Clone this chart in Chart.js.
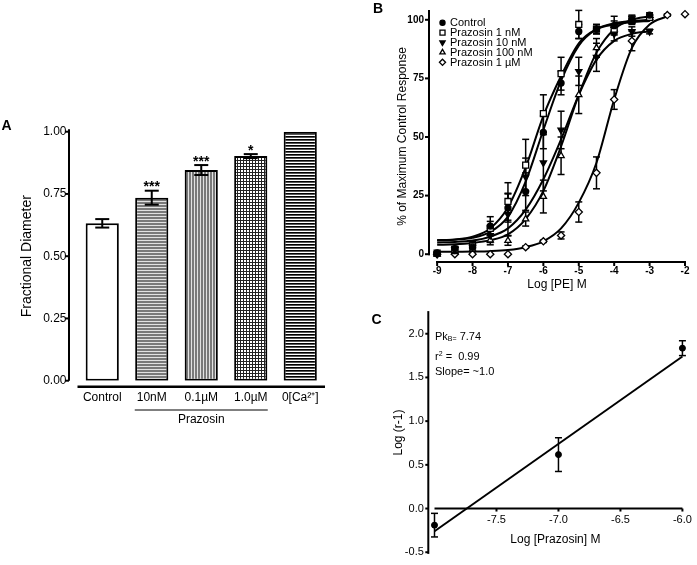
<!DOCTYPE html>
<html>
<head>
<meta charset="utf-8">
<script src="https://cdn.jsdelivr.net/npm/chart.js@4.4.0/dist/chart.umd.min.js"></script>
<style>
  body { margin: 0; background: #fff; }
  #fig { position: relative; width: 697px; height: 565px; overflow: hidden; font-family: "Liberation Sans", Arial, sans-serif; color: #000; }
  canvas { position: absolute; }
  .lbl { position: absolute; font-weight: bold; font-size: 14px; line-height: 14px; }
  .note { position: absolute; left: 435px; font-size: 11px; line-height: 15px; white-space: nowrap; }
  .note sub { font-size: 7px; vertical-align: -1px; }
  .note sup { font-size: 7px; vertical-align: 4px; }
</style>
</head>
<body>
<div id="fig">
  <canvas id="chart-a" width="345" height="335" style="left:0;top:100px"></canvas>
  <canvas id="chart-b" width="347" height="300" style="left:350px;top:0"></canvas>
  <canvas id="chart-c" width="347" height="265" style="left:350px;top:300px"></canvas>
  <div class="lbl" style="left:1.5px;top:118px">A</div>
  <div class="lbl" style="left:373px;top:1px">B</div>
  <div class="lbl" style="left:371.5px;top:312px">C</div>
  <div class="note" style="top:329px">Pk<sub>B=</sub> 7.74<br>r<sup>2</sup> =&nbsp; 0.99<br>Slope= ~1.0</div>
</div>
<script>
// panel A - fractional diameter
const barLabels = ['Control', '10nM', '0.1µM', '1.0µM', '0[Ca²⁺]'];
const barMeans = [0.632, 0.735, 0.846, 0.902, 1.0];
const barErrors = [0.017, 0.028, 0.02, 0.008, 0];
const barMarks = ['', '***', '***', '*', ''];
const aTicks = [0, 0.25, 0.5, 0.75, 1.0];

// panel B - PE concentration response
const peLog = [-9, -8.5, -8, -7.5, -7, -6.5, -6, -5.5, -5, -4.5, -4, -3.5, -3];
const peLogLong = [-9, -8.5, -8, -7.5, -7, -6.5, -6, -5.5, -5, -4.5, -4, -3.5, -3, -2.5, -2];
const legendNames = ['Control', 'Prazosin 1 nM', 'Prazosin 10 nM', 'Prazosin 100 nM', 'Prazosin 1 µM'];
const ctrlMean = [0.5, 2.4, 3, 12, 19.7, 26.7, 52, 73, 95, 96, 97.5, 100, 102];
const ctrlSem = [0.5, 1, 1.5, 4, 6, 8, 7, 5, 3, 2, 2, 1.5, 1];
const nM1Mean = [0.5, 2, 3.5, 11, 22.5, 38, 60, 77, 98, 96, 96, 100, 101];
const nM1Sem = [0.5, 1, 2, 3, 8, 11, 8, 7, 6, 2, 2, 1.5, 1];
const nM10Mean = [0, 2, 3, 8, 17, 33, 39, 53, 78, 84, 94, 95, 95];
const nM10Sem = [0.5, 1, 1.5, 3, 9, 8, 12, 8, 6, 6, 3, 2, 1];
const nM100Mean = [0, 1, 2, 6, 5.8, 15, 24.6, 42, 68, 88, 97.5, 100, 101];
const nM100Sem = [0.5, 1, 1, 2, 2, 3, 7, 8, 8, 4, 4, 2, 1];
const uM1Mean = [0, 0, 0, 0, 0, 3, 5.5, 8, 18, 34.7, 66, 91, 101, 102, 102.4];
const uM1Sem = [0, 0, 0, 0, 0, 0.5, 0.5, 1.5, 4.3, 6.8, 4.2, 4.2, 1, 0.5, 0];
// fitted curves
const ctrlFit = [6, 6.2, 7, 9.5, 16, 31, 53, 74, 89, 96, 98.5, 99.5, 100];
const nM1Fit = [6, 6.3, 7.5, 11, 20, 37, 59, 76, 90, 96, 98, 99, 99.5];
const nM10Fit = [5, 5.2, 5.8, 7.5, 11, 19, 32, 49, 68, 83, 91, 94, 95];
const nM100Fit = [4, 4.2, 4.8, 6, 8.5, 15, 27, 46, 68, 86, 96, 100, 101.5];
const uM1Fit = [1, 1, 1.1, 1.3, 1.8, 3, 5.5, 11, 22, 39, 66, 88, 98, 101.5];
const bTicksX = [-9, -8, -7, -6, -5, -4, -3, -2];
const bTicksY = [0, 25, 50, 75, 100];

// panel C - Schild plot
const schildLog = [-8, -7, -6];
const schildMean = [-0.19, 0.617, 1.835];
const schildErr = [0.135, 0.193, 0.085];
const schildFitX = [-8, -6];
const schildFitY = [-0.26, 1.74];
const cTicksX = [-7.5, -7, -6.5, -6];
const cTicksY = [-0.5, 0, 0.5, 1, 1.5, 2];

Chart.defaults.font.family = "'Liberation Sans', Arial, sans-serif";
Chart.defaults.color = '#000';

function makePattern(w, h, draw) {
  const c = document.createElement('canvas');
  c.width = w; c.height = h;
  const g = c.getContext('2d');
  draw(g, w, h);
  return g.createPattern(c, 'repeat');
}
const hGray = makePattern(4, 3, (g) => { g.fillStyle = '#7a7a7a'; g.fillRect(0, 0, 4, 3); g.fillStyle = '#e2e2e2'; g.fillRect(0, 2, 4, 1); });
const vGray = makePattern(3, 4, (g) => { g.fillStyle = '#7a7a7a'; g.fillRect(0, 0, 3, 4); g.fillStyle = '#e2e2e2'; g.fillRect(2, 0, 1, 4); });
const crossHatch = makePattern(3, 3, (g) => { g.fillStyle = '#fff'; g.fillRect(0, 0, 3, 3); g.fillStyle = '#222'; g.fillRect(0, 0, 3, 1); g.fillRect(0, 0, 1, 3); });
const hBlack = makePattern(3, 3, (g) => { g.fillStyle = '#fff'; g.fillRect(0, 0, 3, 3); g.fillStyle = '#000'; g.fillRect(0, 0, 3, 1); g.fillStyle = '#555'; g.fillRect(0, 1, 3, 1); });

function pts(xs, ys) {
  return ys.map((y, i) => ({x: xs[i], y: y}));
}

function line(ctx, x1, y1, x2, y2) {
  ctx.beginPath();
  ctx.moveTo(x1, y1);
  ctx.lineTo(x2, y2);
  ctx.stroke();
}

function errorBars(chart, cap, width) {
  const {ctx, scales: {x, y}} = chart;
  ctx.save();
  ctx.strokeStyle = '#000';
  ctx.lineWidth = width;
  chart.data.datasets.forEach(ds => {
    if (!ds.errors) return;
    ds.data.forEach((p, i) => {
      const e = ds.errors[i];
      if (!e) return;
      const px = x.getPixelForValue(p.x);
      const t = y.getPixelForValue(p.y + e);
      const b = y.getPixelForValue(p.y - e);
      line(ctx, px, t, px, b);
      line(ctx, px - cap, t, px + cap, t);
      line(ctx, px - cap, b, px + cap, b);
    });
  });
  ctx.restore();
}

const noAxisGrid = {display: false, drawTicks: false};

// ---------- A ----------
new Chart(document.getElementById('chart-a'), {
  type: 'bar',
  data: {
    labels: barLabels,
    datasets: [{
      data: barMeans,
      backgroundColor: ['#fff', hGray, vGray, crossHatch, hBlack],
      borderColor: '#000',
      borderWidth: 2,
      borderSkipped: false,
      barPercentage: 0.67,
      categoryPercentage: 1
    }]
  },
  options: {
    responsive: false,
    animation: false,
    events: [],
    layout: {padding: {left: 0, right: 20, top: 31.7, bottom: 0}},
    scales: {
      x: {
        grid: noAxisGrid,
        border: {display: false},
        ticks: {font: {size: 12}, padding: 10},
        title: {display: true, text: 'Prazosin', font: {size: 12}, padding: {top: 0, bottom: 7.8}},
        afterFit: (s) => { s.height = 54.3; }
      },
      y: {
        min: 0,
        max: 1,
        afterBuildTicks: (s) => { s.ticks = aTicks.map(v => ({value: v})); },
        grid: noAxisGrid,
        border: {display: false},
        ticks: {font: {size: 12}, padding: 11, callback: (v) => v.toFixed(2)},
        title: {display: true, text: 'Fractional Diameter', font: {size: 14}, padding: {top: 18.3, bottom: 0}},
        afterFit: (s) => { s.width = 77.5; }
      }
    },
    plugins: {legend: {display: false}, tooltip: {enabled: false}}
  },
  plugins: [{
    id: 'prismA',
    afterDraw(chart) {
      const {ctx, chartArea, scales: {x, y}} = chart;
      ctx.save();
      ctx.strokeStyle = '#000';
      ctx.lineWidth = 2;
      const ax = chartArea.left - 8.5;
      line(ctx, ax, y.getPixelForValue(1.01), ax, y.getPixelForValue(0));
      aTicks.forEach(v => line(ctx, ax - 4, y.getPixelForValue(v), ax, y.getPixelForValue(v)));
      ctx.lineWidth = 2.5;
      line(ctx, chartArea.left, chartArea.bottom + 6, chartArea.right, chartArea.bottom + 6);
      ctx.lineWidth = 1;
      line(ctx, x.getPixelForValue(1) - 17, chartArea.bottom + 29.3, x.getPixelForValue(3) + 17, chartArea.bottom + 29.3);
      // error bars and significance marks
      ctx.lineWidth = 2;
      ctx.fillStyle = '#000';
      ctx.font = "bold 14px 'Liberation Sans', Arial, sans-serif";
      ctx.textAlign = 'center';
      ctx.textBaseline = 'alphabetic';
      barMeans.forEach((m, i) => {
        const px = x.getPixelForValue(i);
        const e = barErrors[i];
        const t = y.getPixelForValue(m + e);
        if (e) {
          const b = y.getPixelForValue(m - e);
          line(ctx, px, t, px, b);
          line(ctx, px - 7, t, px + 7, t);
          line(ctx, px - 7, b, px + 7, b);
        }
        if (barMarks[i]) ctx.fillText(barMarks[i], px, t + 0.5);
      });
      ctx.restore();
    }
  }]
});

// ---------- B ----------
const seriesMeans = [ctrlMean, nM1Mean, nM10Mean, nM100Mean, uM1Mean];
const seriesSems = [ctrlSem, nM1Sem, nM10Sem, nM100Sem, uM1Sem];
const seriesFits = [ctrlFit, nM1Fit, nM10Fit, nM100Fit, uM1Fit];
const markerStyles = [
  {pointStyle: 'circle', pointRadius: 3, pointBackgroundColor: '#000', pointRotation: 0},
  {pointStyle: 'rect', pointRadius: 4.2, pointBackgroundColor: '#fff', pointRotation: 0},
  {pointStyle: 'triangle', pointRadius: 3.6, pointBackgroundColor: '#000', pointRotation: 180},
  {pointStyle: 'triangle', pointRadius: 3.6, pointBackgroundColor: '#fff', pointRotation: 0},
  {pointStyle: 'rectRot', pointRadius: 3.6, pointBackgroundColor: '#fff', pointRotation: 0}
];
const bDatasets = [];
seriesMeans.forEach((means, i) => {
  const xs = means.length > peLog.length ? peLogLong : peLog;
  bDatasets.push(Object.assign({
    label: legendNames[i],
    data: pts(xs, means),
    errors: seriesSems[i],
    pointBorderColor: '#000',
    pointBorderWidth: 1.3,
    showLine: false,
    clip: false
  }, markerStyles[i]));
});
seriesFits.forEach((fit) => {
  bDatasets.push({
    data: pts(peLogLong, fit),
    showLine: true,
    pointRadius: 0,
    borderColor: '#000',
    borderWidth: 2,
    cubicInterpolationMode: 'monotone',
    clip: false
  });
});

new Chart(document.getElementById('chart-b'), {
  type: 'scatter',
  data: {datasets: bDatasets},
  options: {
    responsive: false,
    animation: false,
    events: [],
    layout: {padding: {left: 0, right: 12, top: 5, bottom: 0}},
    scales: {
      x: {
        type: 'linear',
        min: -9.23,
        max: -2,
        afterBuildTicks: (s) => { s.ticks = bTicksX.map(v => ({value: v})); },
        grid: noAxisGrid,
        border: {display: false},
        ticks: {font: {size: 10, weight: 'bold'}, padding: 3.7, callback: (v) => String(v)},
        title: {display: true, text: 'Log [PE] M', font: {size: 12}, padding: {top: 0, bottom: 7.8}},
        afterFit: (s) => { s.height = 38; }
      },
      y: {
        min: -3.33,
        max: 103.75,
        afterBuildTicks: (s) => { s.ticks = bTicksY.map(v => ({value: v})); },
        grid: noAxisGrid,
        border: {display: false},
        ticks: {font: {size: 10, weight: 'bold'}, padding: 5},
        title: {display: true, text: '% of Maximum Control Response', font: {size: 12}, padding: {top: 45.8, bottom: 0}},
        afterFit: (s) => { s.width = 79; }
      }
    },
    plugins: {legend: {display: false}, tooltip: {enabled: false}}
  },
  plugins: [{
    id: 'prismB',
    beforeDatasetsDraw(chart) {
      errorBars(chart, 3.5, 1.5);
    },
    afterDraw(chart) {
      const {ctx, chartArea, scales: {x, y}} = chart;
      ctx.save();
      ctx.strokeStyle = '#000';
      ctx.lineWidth = 2;
      ctx.lineCap = 'square';
      line(ctx, chartArea.left, chartArea.top, chartArea.left, y.getPixelForValue(0));
      bTicksY.forEach(v => line(ctx, chartArea.left - 3, y.getPixelForValue(v), chartArea.left, y.getPixelForValue(v)));
      const by = chartArea.bottom;
      line(ctx, x.getPixelForValue(-9), by, x.getPixelForValue(-2), by);
      bTicksX.forEach(v => line(ctx, x.getPixelForValue(v), by, x.getPixelForValue(v), by + 3));
      // legend
      ctx.lineCap = 'butt';
      ctx.font = "11px 'Liberation Sans', Arial, sans-serif";
      ctx.textAlign = 'left';
      ctx.textBaseline = 'middle';
      legendNames.forEach((name, i) => {
        const ds = chart.data.datasets[i];
        const ly = 22.7 + i * 9.9;
        ctx.fillStyle = ds.pointBackgroundColor;
        ctx.strokeStyle = '#000';
        ctx.lineWidth = 1.3;
        if (Chart.helpers && Chart.helpers.drawPoint) {
          Chart.helpers.drawPoint(ctx, {pointStyle: ds.pointStyle, rotation: ds.pointRotation, radius: ds.pointRadius * 0.85, borderWidth: 1.3}, 92.5, ly);
        } else {
          ctx.beginPath(); ctx.arc(92.5, ly, 2.5, 0, Math.PI * 2); ctx.fill(); ctx.stroke();
        }
        ctx.fillStyle = '#000';
        ctx.fillText(name, 100, ly + 0.5);
      });
      ctx.restore();
    }
  }]
});

// ---------- C ----------
new Chart(document.getElementById('chart-c'), {
  type: 'scatter',
  data: {
    datasets: [
      {
        data: pts(schildLog, schildMean),
        errors: schildErr,
        pointStyle: 'circle',
        pointRadius: 3,
        pointBackgroundColor: '#000',
        pointBorderColor: '#000',
        showLine: false,
        clip: false
      },
      {
        data: pts(schildFitX, schildFitY),
        showLine: true,
        pointRadius: 0,
        borderColor: '#000',
        borderWidth: 2,
        clip: false
      }
    ]
  },
  options: {
    responsive: false,
    animation: false,
    events: [],
    layout: {padding: {left: 0, right: 13.7, top: 9.3, bottom: 5}},
    scales: {
      x: {
        type: 'linear',
        position: {y: 0},
        min: -8.05,
        max: -6,
        afterBuildTicks: (s) => { s.ticks = cTicksX.map(v => ({value: v})); },
        grid: noAxisGrid,
        border: {display: false},
        ticks: {font: {size: 11}, padding: 5.1, callback: (v) => v.toFixed(1)},
        title: {display: true, text: 'Log [Prazosin] M', font: {size: 12}, padding: {top: 0, bottom: 2.1}},
        afterFit: (s) => { s.height = 40; }
      },
      y: {
        min: -0.519,
        max: 2.259,
        afterBuildTicks: (s) => { s.ticks = cTicksY.map(v => ({value: v})); },
        grid: noAxisGrid,
        border: {display: false},
        ticks: {font: {size: 11}, padding: 4.5, callback: (v) => v.toFixed(1)},
        title: {display: true, text: 'Log (r-1)', font: {size: 12}, padding: {top: 41.1, bottom: 0}},
        afterFit: (s) => { s.width = 78.3; }
      }
    },
    plugins: {legend: {display: false}, tooltip: {enabled: false}}
  },
  plugins: [{
    id: 'prismC',
    beforeDatasetsDraw(chart) {
      errorBars(chart, 3.5, 1.5);
    },
    afterDraw(chart) {
      const {ctx, chartArea, scales: {x, y}} = chart;
      ctx.save();
      ctx.strokeStyle = '#000';
      ctx.lineWidth = 2;
      line(ctx, chartArea.left, chartArea.top, chartArea.left, chartArea.bottom);
      cTicksY.forEach(v => line(ctx, chartArea.left - 3, y.getPixelForValue(v), chartArea.left, y.getPixelForValue(v)));
      const y0 = y.getPixelForValue(0);
      line(ctx, x.getPixelForValue(-8), y0, x.getPixelForValue(-6), y0);
      cTicksX.forEach(v => line(ctx, x.getPixelForValue(v), y0, x.getPixelForValue(v), y0 + 3));
      ctx.restore();
    }
  }]
});
</script>
</body>
</html>
